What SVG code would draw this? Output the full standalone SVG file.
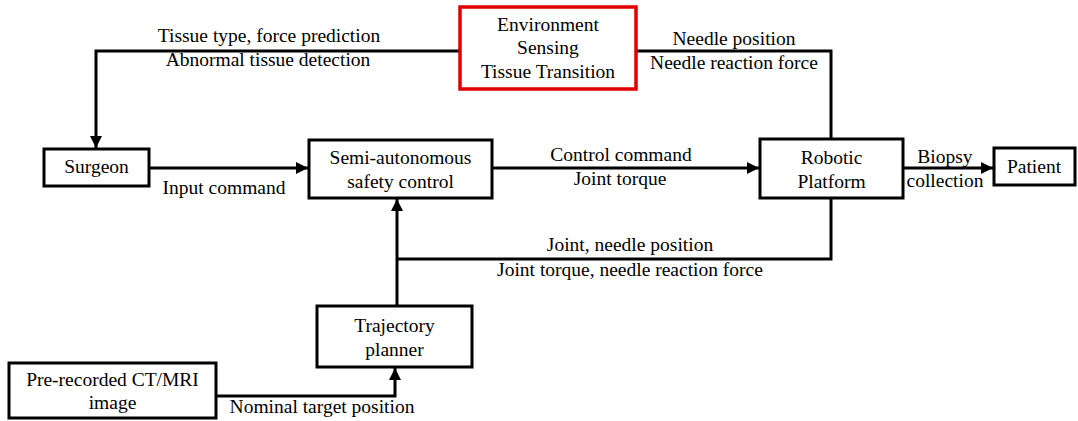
<svg xmlns="http://www.w3.org/2000/svg" width="1078" height="421" viewBox="0 0 1078 421" font-family="'Liberation Serif', 'Times New Roman', Tinos, 'DejaVu Serif', serif">
<style>
.box{fill:#fff;stroke:#000;stroke-width:3}
.red{fill:#fff;stroke:#e00000;stroke-width:3.5}
text{font-family:'Liberation Serif','Times New Roman',Tinos,'DejaVu Serif',serif;font-size:19.5px;fill:#000;text-anchor:middle}
.ln{fill:none;stroke:#000;stroke-width:3}
</style>
<defs>
<marker id="ah" viewBox="0 0 10 10" refX="10" refY="5" markerWidth="4" markerHeight="4" markerUnits="strokeWidth" orient="auto">
<path d="M0,0 L10,5 L0,10 Z" fill="#000"/>
</marker>
</defs>
<rect width="1078" height="421" fill="#fff"/>
<g id="connectors">
<path class="ln" d="M460,51 H96 V148" marker-end="url(#ah)"/>
<path class="ln" d="M636,51 H831 V139"/>
<path class="ln" d="M149,168 H308" marker-end="url(#ah)"/>
<path class="ln" d="M492,168 H759" marker-end="url(#ah)"/>
<path class="ln" d="M903,168 H993" marker-end="url(#ah)"/>
<path class="ln" d="M831,198 V259 H397"/>
<path class="ln" d="M397,306 V199" marker-end="url(#ah)"/>
<path class="ln" d="M216,396 H395 V368" marker-end="url(#ah)"/>
</g>
<g id="labels">
<text x="269" y="42">Tissue type, force prediction</text>
<text x="268" y="66">Abnormal tissue detection</text>
<text x="734" y="45">Needle position</text>
<text x="734" y="69">Needle reaction force</text>
<text x="224" y="194">Input command</text>
<text x="621" y="161">Control command</text>
<text x="620" y="185">Joint torque</text>
<text x="945" y="163">Biopsy</text>
<text x="945" y="187">collection</text>
<text x="630" y="251">Joint, needle position</text>
<text x="630" y="276">Joint torque, needle reaction force</text>
<text x="322" y="413">Nominal target position</text>
</g>
<g id="env">
<rect class="red" x="460" y="7" width="176" height="82"/>
<text x="548" y="31">Environment</text>
<text x="548" y="54">Sensing</text>
<text x="548" y="78">Tissue Transition</text>
</g>
<g id="surgeon">
<rect class="box" x="44" y="149" width="105" height="37"/>
<text x="96.5" y="173">Surgeon</text>
</g>
<g id="semi">
<rect class="box" x="309" y="140" width="183" height="58"/>
<text x="400.5" y="164">Semi-autonomous</text>
<text x="400.5" y="188">safety control</text>
</g>
<g id="robotic">
<rect class="box" x="760" y="139" width="143" height="59"/>
<text x="831.5" y="164">Robotic</text>
<text x="831.5" y="188">Platform</text>
</g>
<g id="patient">
<rect class="box" x="994" y="148" width="81" height="37"/>
<text x="1034" y="173">Patient</text>
</g>
<g id="trajectory">
<rect class="box" x="317" y="306" width="155" height="61"/>
<text x="394.5" y="332">Trajectory</text>
<text x="394.5" y="356">planner</text>
</g>
<g id="prerecorded">
<rect class="box" x="9" y="363" width="207" height="55"/>
<text x="112.5" y="386">Pre-recorded CT/MRI</text>
<text x="112.5" y="409">image</text>
</g>
</svg>
